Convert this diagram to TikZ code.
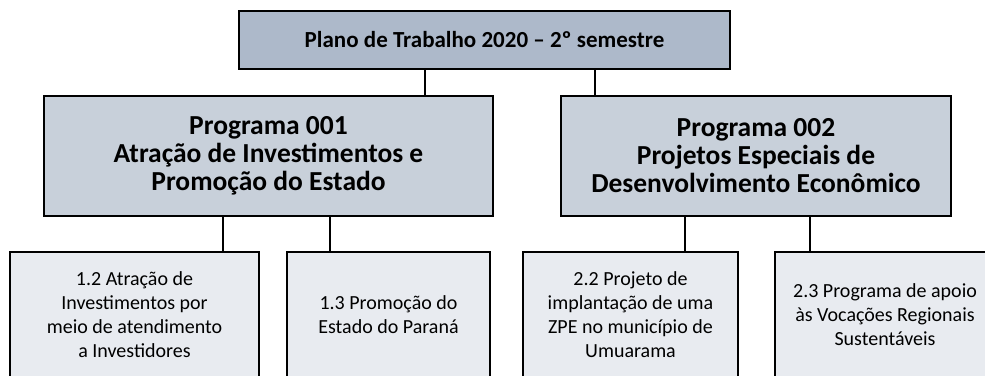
\documentclass[tikz,border=0pt]{standalone}
\usepackage{fontspec}
\setmainfont{Carlito}
\usepackage{tikz}
\usetikzlibrary{positioning,calc}
\definecolor{boxtop}{RGB}{173,185,202}
\definecolor{boxmid}{RGB}{200,208,218}
\definecolor{boxsub}{RGB}{232,235,240}
\tikzset{
  topbox/.style={draw, line width=1.6pt, fill=boxtop, inner sep=0pt,
      minimum height=58pt, font=\fontsize{23}{26}\selectfont\bfseries},
  progbox/.style={draw, line width=1.6pt, fill=boxmid, inner sep=0pt, align=center,
      minimum height=120pt, font=\fontsize{27.5}{28}\selectfont\bfseries},
  subbox/.style={draw, line width=1.4pt, fill=boxsub, inner sep=0pt, align=center,
      minimum height=126pt, font=\fontsize{20}{24}\selectfont},
  lnk/.style={line width=1.6pt},
}

\begin{document}
\begin{tikzpicture}[x=1pt, y=-1pt]
  \clip (0,0) rectangle (985,375);
  \fill[white] (0,0) rectangle (985,375);
  % nivel 1
  \node[topbox, minimum width=491pt] (plano) at (484.5,40) {Plano de Trabalho 2020 -- 2º semestre};
  % nivel 2
  \node[progbox, minimum width=449pt] (prog1) at (268.5,156)
    {Programa 001\\Atração de Investimentos e\\Promoção do Estado};
  \node[progbox, minimum width=390pt] (prog2) at (756,156)
    {Programa 002\\Projetos Especiais de\\Desenvolvimento Econômico};
  % nivel 3
  \node[subbox, minimum width=249pt] (s12) at (134.5,315)
    {1.2 Atração de\\Investimentos por\\meio de atendimento\\a Investidores};
  \node[subbox, minimum width=203pt] (s13) at (388.5,315)
    {1.3 Promoção do\\Estado do Paraná};
  \node[subbox, minimum width=215pt] (s22) at (630.5,315)
    {2.2 Projeto de\\implantação de uma\\ZPE no município de\\Umuarama};
  \node[subbox, minimum width=220pt] (s23) at (885,315)
    {2.3 Programa de apoio\\às Vocações Regionais\\Sustentáveis};
  % ligacoes
  \coordinate (c1) at (425,0);  \coordinate (c2) at (595,0);
  \coordinate (c3) at (223,0);  \coordinate (c4) at (330,0);
  \coordinate (c5) at (685,0);  \coordinate (c6) at (810,0);
  \draw[lnk] (plano.south -| c1) -- (prog1.north -| c1);
  \draw[lnk] (plano.south -| c2) -- (prog2.north -| c2);
  \draw[lnk] (prog1.south -| c3) -- (s12.north -| c3);
  \draw[lnk] (prog1.south -| c4) -- (s13.north -| c4);
  \draw[lnk] (prog2.south -| c5) -- (s22.north -| c5);
  \draw[lnk] (prog2.south -| c6) -- (s23.north -| c6);
\end{tikzpicture}
\end{document}
